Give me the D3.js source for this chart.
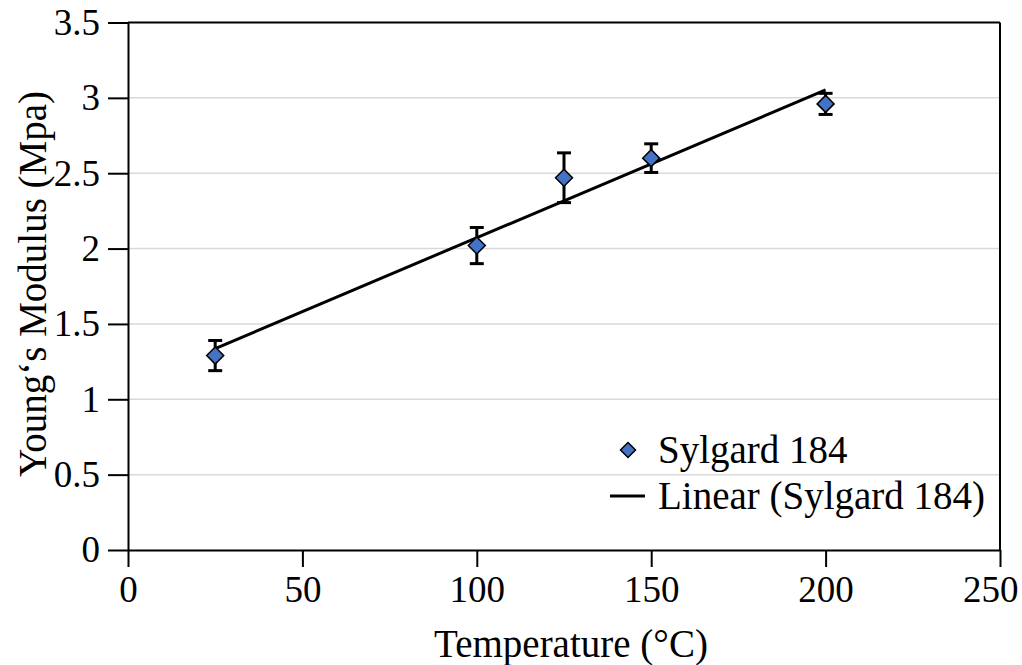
<!DOCTYPE html>
<html>
<head>
<meta charset="utf-8">
<script src="https://cdn.jsdelivr.net/npm/d3@7"></script>
<style>
  body { margin: 0; background: #fff; }
  text { font-family: "Liberation Serif", "Times New Roman", serif; }
</style>
</head>
<body>
<div id="chart"></div>
<script>
// data
const temps = [25, 100, 125, 150, 200];
const modulus = [1.29, 2.02, 2.47, 2.60, 2.96];
const errors = [0.10, 0.12, 0.165, 0.095, 0.07];
const xTicks = [0, 50, 100, 150, 200, 250];
const yTicks = [0, 0.5, 1, 1.5, 2, 2.5, 3, 3.5];

const width = 1022, height = 665;
const margin = { top: 22.5, right: 22, bottom: 115, left: 128 };

const svg = d3.select("#chart").append("svg")
  .attr("width", width)
  .attr("height", height);

const x = d3.scaleLinear().domain([0, 250]).range([margin.left, width - margin.right]);
const y = d3.scaleLinear().domain([0, 3.5]).range([height - margin.bottom, margin.top]);

// gridlines
svg.append("g")
  .selectAll("line")
  .data(yTicks.filter(d => d > 0 && d < 3.5))
  .enter().append("line")
  .attr("x1", x(0)).attr("x2", x(250))
  .attr("y1", d => y(d)).attr("y2", d => y(d))
  .style("stroke", "#d9d9d9")
  .style("stroke-width", 1.5);

// plot border top + right
svg.append("line")
  .attr("x1", x(0)).attr("x2", x(250))
  .attr("y1", y(3.5)).attr("y2", y(3.5))
  .style("stroke", "#000").style("stroke-width", 2);
svg.append("line")
  .attr("x1", x(250)).attr("x2", x(250))
  .attr("y1", y(3.5)).attr("y2", y(0))
  .style("stroke", "#000").style("stroke-width", 2);

// axes
const xAxis = svg.append("g")
  .attr("transform", `translate(0,${y(0)})`)
  .call(d3.axisBottom(x).tickValues(xTicks).tickSize(17).tickSizeOuter(0).tickPadding(9).tickFormat(d3.format("d")));

const yAxis = svg.append("g")
  .attr("transform", `translate(${x(0)},0)`)
  .call(d3.axisLeft(y).tickValues(yTicks).tickSize(20).tickSizeOuter(0).tickPadding(8).tickFormat(d => d));

[xAxis, yAxis].forEach(g => {
  g.select(".domain").style("stroke", "#000").style("stroke-width", 2);
  g.selectAll(".tick line").style("stroke", "#000").style("stroke-width", 2);
  g.selectAll(".tick text")
    .style("font-family", "'Liberation Serif', serif")
    .style("font-size", "37px")
    .style("fill", "#000");
});

// last x label sits inside the page edge
xAxis.selectAll(".tick text")
  .filter(d => d === 250)
  .attr("text-anchor", "end")
  .attr("x", 18);

// linear trendline (least squares fit)
const mx = d3.mean(temps), my = d3.mean(modulus);
const slope = d3.sum(temps, (t, i) => (t - mx) * (modulus[i] - my)) / d3.sum(temps, t => (t - mx) ** 2);
const intercept = my - slope * mx;
const xs = d3.extent(temps);
svg.append("line")
  .attr("x1", x(xs[0])).attr("y1", y(intercept + slope * xs[0]))
  .attr("x2", x(xs[1])).attr("y2", y(intercept + slope * xs[1]))
  .style("stroke", "#000")
  .style("stroke-width", 3);

// error bars
const pts = temps.map((t, i) => ({ t: t, v: modulus[i], e: errors[i] }));
const eb = svg.append("g").selectAll("g").data(pts).enter().append("g");
eb.append("line")
  .attr("x1", d => x(d.t)).attr("x2", d => x(d.t))
  .attr("y1", d => y(d.v + d.e)).attr("y2", d => y(d.v - d.e))
  .style("stroke", "#000").style("stroke-width", 3);
eb.selectAll(".cap")
  .data(d => [[d.t, d.v + d.e], [d.t, d.v - d.e]])
  .enter().append("line")
  .attr("x1", d => x(d[0]) - 7).attr("x2", d => x(d[0]) + 7)
  .attr("y1", d => y(d[1])).attr("y2", d => y(d[1]))
  .style("stroke", "#000").style("stroke-width", 3);

// diamond markers
const diamond = "M0,-8.5L8.5,0L0,8.5L-8.5,0Z";
svg.append("g").selectAll("path")
  .data(pts)
  .enter().append("path")
  .attr("d", diamond)
  .attr("transform", d => `translate(${x(d.t)},${y(d.v)})`)
  .style("fill", "#4472c4")
  .style("stroke", "#000")
  .style("stroke-width", 1.5);

// legend
const legend = svg.append("g");
legend.append("path")
  .attr("d", "M0,-7.5L7.5,0L0,7.5L-7.5,0Z")
  .attr("transform", "translate(628,450)")
  .style("fill", "#4472c4").style("stroke", "#000").style("stroke-width", 1.5);
legend.append("text")
  .attr("x", 658).attr("y", 450).attr("dy", "0.33em")
  .style("font-size", "39px").text("Sylgard 184");
legend.append("line")
  .attr("x1", 610).attr("x2", 645).attr("y1", 496).attr("y2", 496)
  .style("stroke", "#000").style("stroke-width", 3);
legend.append("text")
  .attr("x", 658).attr("y", 496).attr("dy", "0.33em")
  .style("font-size", "39px").text("Linear (Sylgard 184)");

// axis titles
svg.append("text")
  .attr("x", 571).attr("y", 657)
  .attr("text-anchor", "middle")
  .style("font-size", "39px")
  .text("Temperature (°C)");

svg.append("text")
  .attr("transform", "translate(46,284) rotate(-90)")
  .attr("text-anchor", "middle")
  .style("font-size", "39px")
  .text("Young‘s Modulus (Mpa)");
</script>
</body>
</html>
